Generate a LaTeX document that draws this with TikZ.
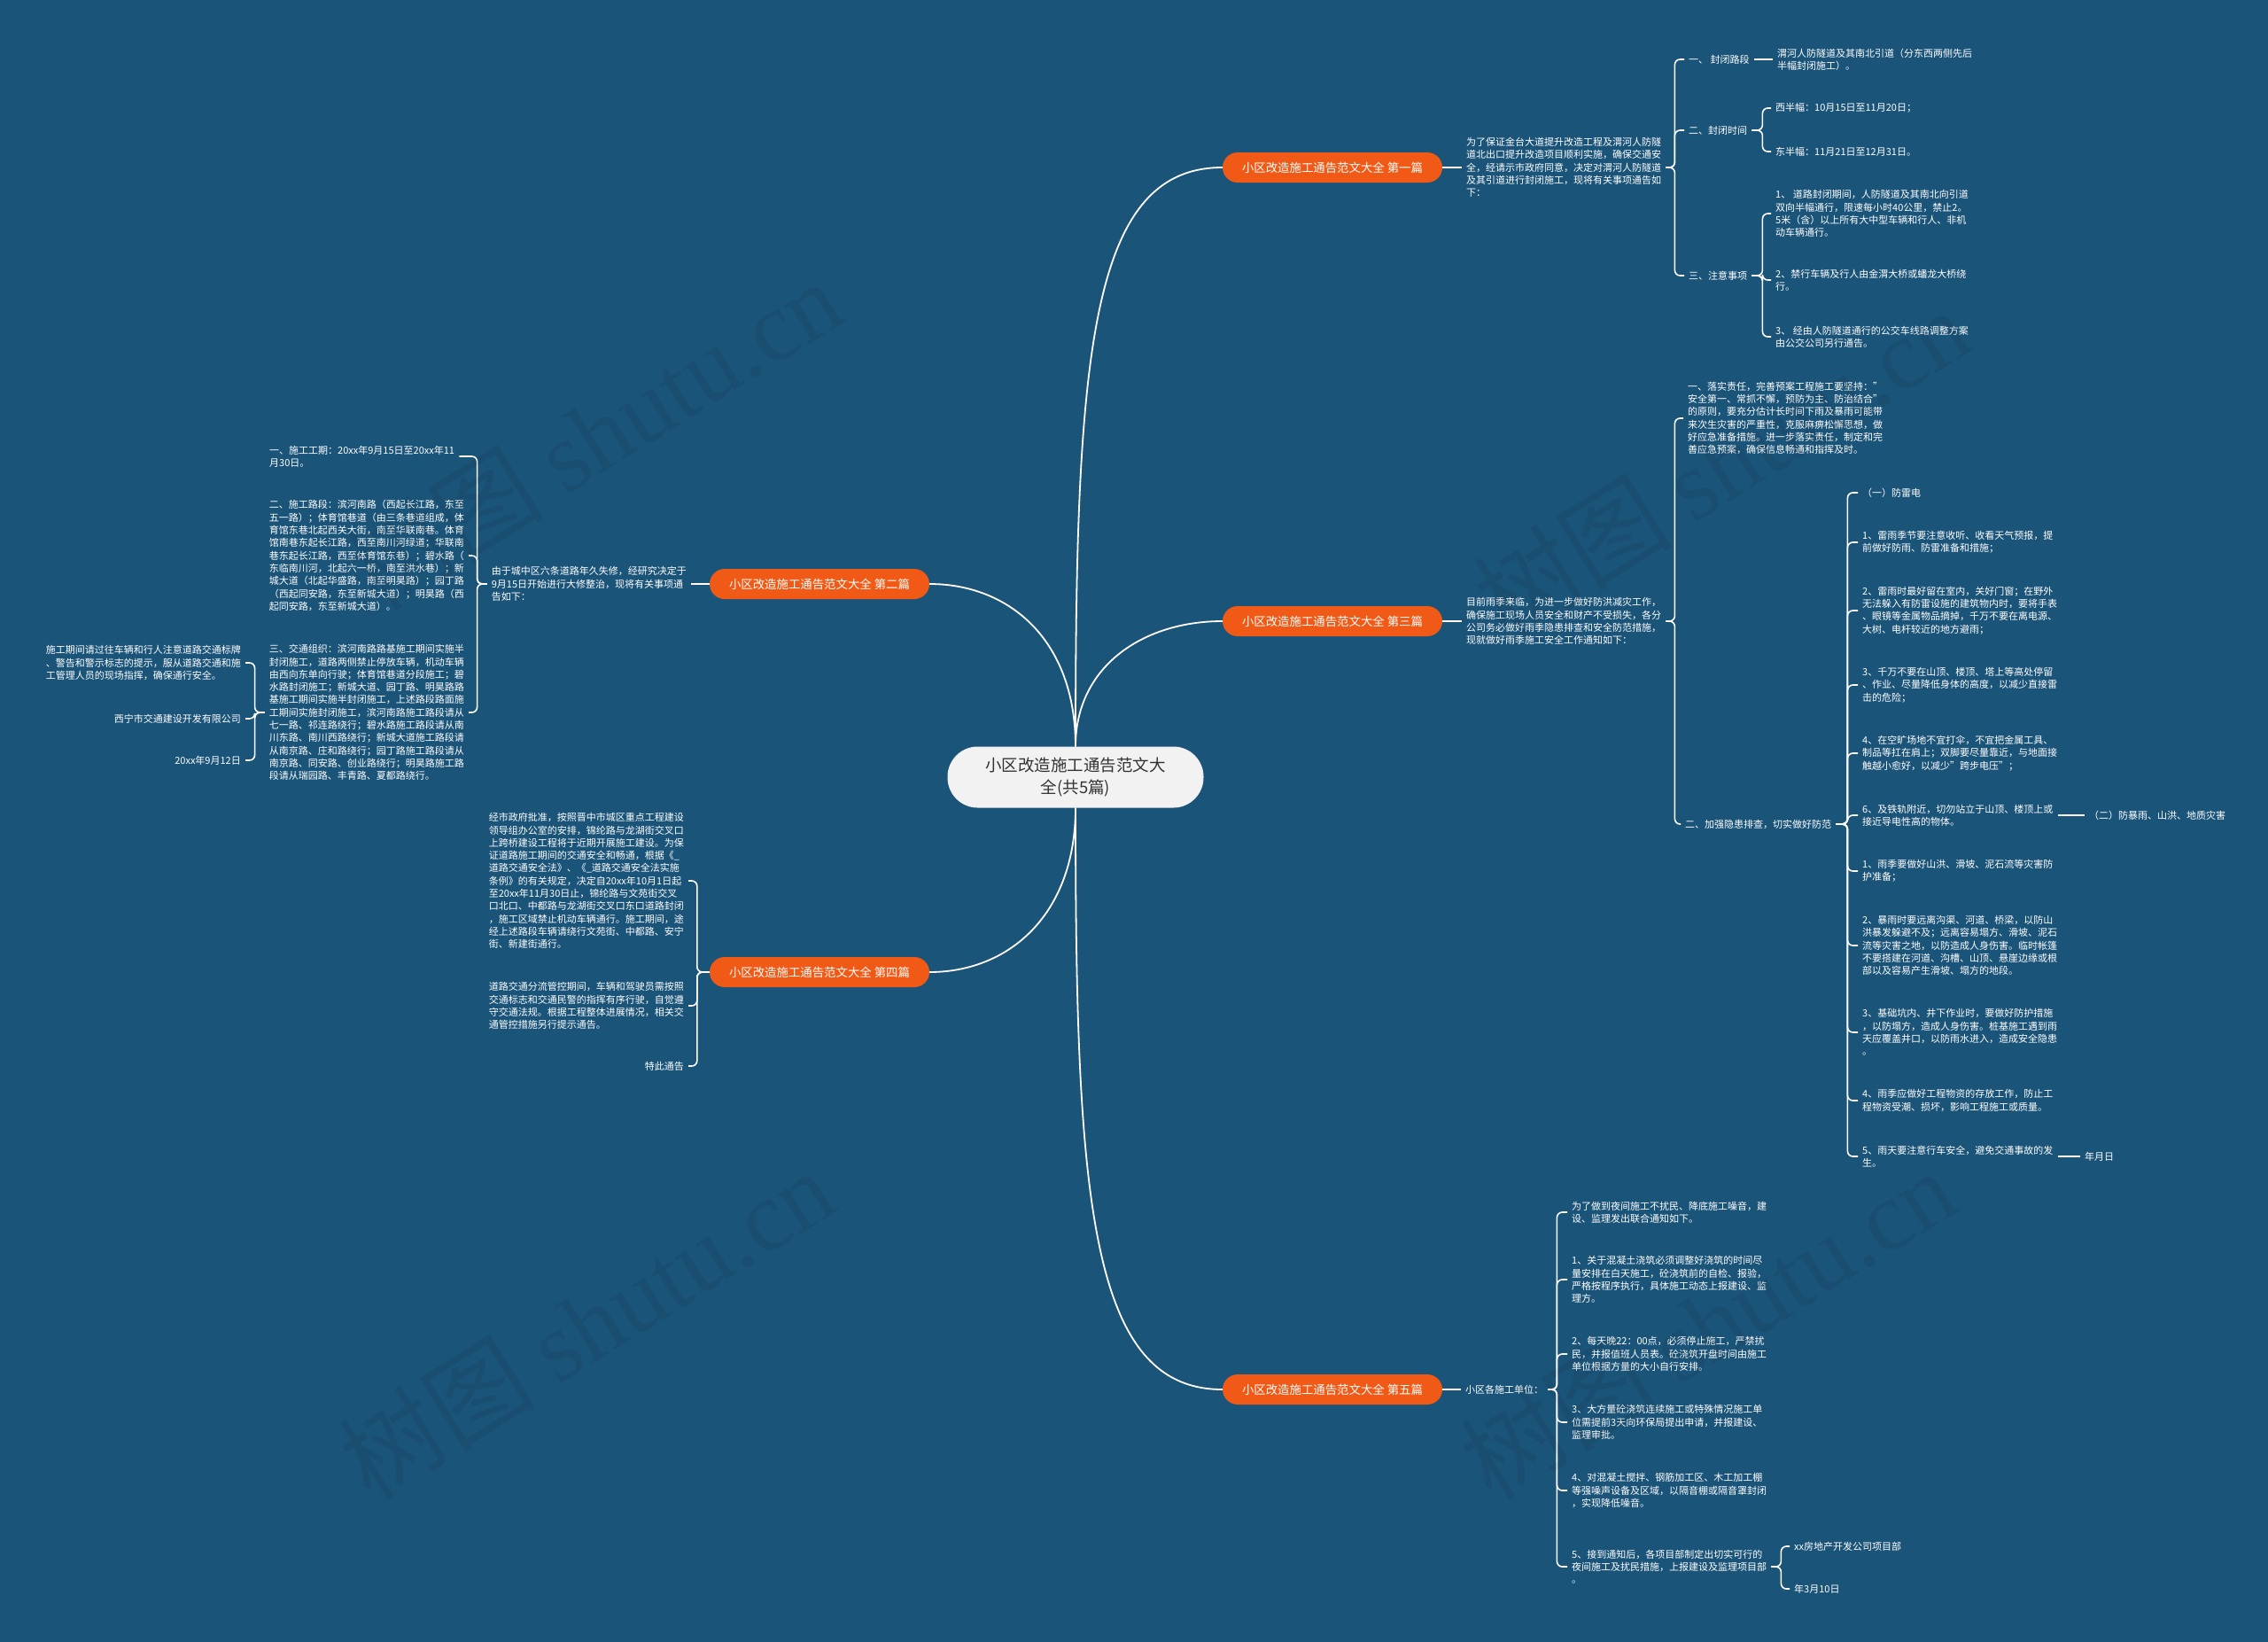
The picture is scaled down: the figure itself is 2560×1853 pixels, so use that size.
\documentclass[tikz,border=0pt]{standalone}
\usepackage{fontspec}
\setmainfont{Noto Sans CJK SC}
\newfontfamily\wmlatin{Liberation Serif}
\definecolor{bgblue}{HTML}{1B5479}
\definecolor{topicorange}{HTML}{F05A16}
\definecolor{rootgray}{HTML}{F2F2F2}
\definecolor{rootink}{HTML}{333333}
\def\leaffont{\fontsize{11}{14.3}\selectfont}
\def\topicfont{\fontsize{13.4}{16}\selectfont}
\def\rootfont{\fontsize{18.5}{25}\selectfont}
\def\wmfont{\fontsize{112}{112}\selectfont}
\tikzset{
  leaf/.style={text=white, font=\leaffont, align=left, inner xsep=5pt, inner ysep=1pt},
  leafR/.style={leaf, anchor=west},
  leafL/.style={leaf, anchor=east},
  topic/.style={fill=topicorange, text=white, font=\topicfont, rounded corners=17pt,
    minimum width=248pt, minimum height=34pt, inner sep=0pt},
  root/.style={fill=rootgray, text=rootink, font=\rootfont, align=center,
    rounded corners=34pt, minimum width=289pt, minimum height=69pt},
  trunk/.style={draw=white, line width=1.8pt},
  link/.style={draw=white, line width=1.6pt, rounded corners=6pt},
  wmark/.style={font=\wmfont, text=black, opacity=0.07, rotate=32},
}

\begin{document}
\begin{tikzpicture}[x=1pt,y=-1pt]
			%%%%% START %%%%%
			\useasboundingbox (0,0) rectangle (2560,1853);
			\fill[bgblue] (0,0) rectangle (2560,1853);
			
			\node[root] (root) at (1214,877) {小区改造施工通告范文大\\全(共5篇)};
			
			\node[topic] (b1) at (1504,189) {小区改造施工通告范文大全 第一篇};
			\node[topic] (b2) at (925,659) {小区改造施工通告范文大全 第二篇};
			\node[topic] (b3) at (1504,701) {小区改造施工通告范文大全 第三篇};
			\node[topic] (b4) at (925,1097) {小区改造施工通告范文大全 第四篇};
			\node[topic] (b5) at (1504,1568) {小区改造施工通告范文大全 第五篇};
			
			\draw[trunk] (root.north) .. controls +(0,-440) and +(-150,0) .. (b1.west);
			\draw[trunk] (root.north) .. controls +(0,-90) and +(-90,0) .. (b3.west);
			\draw[trunk] (root.north) .. controls +(0,-120) and +(90,0) .. (b2.east);
			\draw[trunk] (root.south) .. controls +(0,120) and +(90,0) .. (b4.east);
			\draw[trunk] (root.south) .. controls +(0,440) and +(-150,0) .. (b5.west);
			
			% first
			\node[leafR] (p1) at (1650,189) {为了保证金台大道提升改造工程及渭河人防隧\\
道北出口提升改造项目顺利实施，确保交通安\\
全，经请示市政府同意，决定对渭河人防隧道\\
及其引道进行封闭施工，现将有关事项通告如\\
下：};
			\node[leafR] (s11) at (1901,67) {一、 封闭路段};
			\node[leafR] (s11a) at (2001,67) {渭河人防隧道及其南北引道（分东西两侧先后\\
半幅封闭施工）。};
			\node[leafR] (s12) at (1901,147) {二、封闭时间};
			\node[leafR] (s12a) at (1999,122) {西半幅：10月15日至11月20日；};
			\node[leafR] (s12b) at (1999,171) {东半幅：11月21日至12月31日。};
			\node[leafR] (s13) at (1901,311) {三、注意事项};
			\node[leafR] (s13a) at (1999,241) {1、 道路封闭期间，人防隧道及其南北向引道\\
双向半幅通行，限速每小时40公里，禁止2。\\
5米（含）以上所有大中型车辆和行人、非机\\
动车辆通行。};
			\node[leafR] (s13b) at (1999,316) {2、禁行车辆及行人由金渭大桥或蟠龙大桥绕\\
行。};
			\node[leafR] (s13c) at (1999,380) {3、 经由人防隧道通行的公交车线路调整方案\\
由公交公司另行通告。};
			
			\draw[link] (b1.east) -- (p1.west);
			\draw[link] (p1.east) -- ++(10,0) |- (s11.west);
			\draw[link] (p1.east) -- ++(10,0) |- (s12.west);
			\draw[link] (p1.east) -- ++(10,0) |- (s13.west);
			\draw[link] (s11.east) -- (s11a.west);
			\draw[link] (s12.east) -- ++(12,0) |- (s12a.west);
			\draw[link] (s12.east) -- ++(12,0) |- (s12b.west);
			\draw[link] (s13.east) -- ++(12,0) |- (s13a.west);
			\draw[link] (s13.east) -- ++(12,0) |- (s13b.west);
			\draw[link] (s13.east) -- ++(12,0) |- (s13c.west);
			
			% third
			\node[leafR] (p3) at (1650,701) {目前雨季来临，为进一步做好防洪减灾工作，\\
确保施工现场人员安全和财产不受损失，各分\\
公司务必做好雨季隐患排查和安全防范措施，\\
现就做好雨季施工安全工作通知如下：};
			\node[leafR] (t31) at (1900,472) {一、落实责任，完善预案工程施工要坚持："\\
安全第一、常抓不懈，预防为主、防治结合"\\
的原则，要充分估计长时间下雨及暴雨可能带\\
来次生灾害的严重性，克服麻痹松懈思想，做\\
好应急准备措施。进一步落实责任，制定和完\\
善应急预案，确保信息畅通和指挥及时。};
			\node[leafR] (t32) at (1897,930) {二、加强隐患排查，切实做好防范};
			\node[leafR] (u0) at (2097,556) {（一）防雷电};
			\node[leafR] (u1) at (2097,612) {1、雷雨季节要注意收听、收看天气预报，提\\
前做好防雨、防雷准备和措施；};
			\node[leafR] (u2) at (2097,689) {2、雷雨时最好留在室内，关好门窗；在野外\\
无法躲入有防雷设施的建筑物内时，要将手表\\
、眼镜等金属物品摘掉，千万不要在离电源、\\
大树、电杆较近的地方避雨；};
			\node[leafR] (u3) at (2097,773) {3、千万不要在山顶、楼顶、塔上等高处停留\\
、作业、尽量降低身体的高度，以减少直接雷\\
击的危险；};
			\node[leafR] (u4) at (2097,850) {4、在空旷场地不宜打伞，不宜把金属工具、\\
制品等扛在肩上；双脚要尽量靠近，与地面接\\
触越小愈好，以减少"跨步电压"；};
			\node[leafR] (u6) at (2097,920) {6、及铁轨附近，切勿站立于山顶、楼顶上或\\
接近导电性高的物体。};
			\node[leafR] (v6) at (2353,920) {（二）防暴雨、山洪、地质灾害};
			\node[leafR] (w1) at (2097,983) {1、雨季要做好山洪、滑坡、泥石流等灾害防\\
护准备；};
			\node[leafR] (w2) at (2097,1067) {2、暴雨时要远离沟渠、河道、桥梁，以防山\\
洪暴发躲避不及；远离容易塌方、滑坡、泥石\\
流等灾害之地，以防造成人身伤害。临时帐篷\\
不要搭建在河道、沟槽、山顶、悬崖边缘或根\\
部以及容易产生滑坡、塌方的地段。};
			\node[leafR] (w3) at (2097,1165) {3、基础坑内、井下作业时，要做好防护措施\\
，以防塌方，造成人身伤害。桩基施工遇到雨\\
天应覆盖井口，以防雨水进入，造成安全隐患\\
。};
			\node[leafR] (w4) at (2097,1242) {4、雨季应做好工程物资的存放工作，防止工\\
程物资受潮、损坏，影响工程施工或质量。};
			\node[leafR] (w5) at (2097,1305) {5、雨天要注意行车安全，避免交通事故的发\\
生。};
			\node[leafR] (w5a) at (2348,1305) {年月日};
			
			\draw[link] (b3.east) -- (p3.west);
			\draw[link] (p3.east) -- ++(10,0) |- (t31.west);
			\draw[link] (p3.east) -- ++(10,0) |- (t32.west);
			\draw[link] (t32.east) -- ++(13,0) |- (u0.west);
			\draw[link] (t32.east) -- ++(13,0) |- (u1.west);
			\draw[link] (t32.east) -- ++(13,0) |- (u2.west);
			\draw[link] (t32.east) -- ++(13,0) |- (u3.west);
			\draw[link] (t32.east) -- ++(13,0) |- (u4.west);
			\draw[link] (t32.east) -- ++(13,0) |- (u6.west);
			\draw[link] (t32.east) -- ++(13,0) |- (w1.west);
			\draw[link] (t32.east) -- ++(13,0) |- (w2.west);
			\draw[link] (t32.east) -- ++(13,0) |- (w3.west);
			\draw[link] (t32.east) -- ++(13,0) |- (w4.west);
			\draw[link] (t32.east) -- ++(13,0) |- (w5.west);
			\draw[link] (u6.east) -- (v6.west);
			\draw[link] (w5.east) -- (w5a.west);
			
			% fifth
			\node[leafR] (p5) at (1649,1568) {小区各施工单位：};
			\node[leafR] (x0) at (1769,1368) {为了做到夜间施工不扰民、降底施工噪音，建\\
设、监理发出联合通知如下。};
			\node[leafR] (x1) at (1769,1444) {1、关于混凝土浇筑必须调整好浇筑的时间尽\\
量安排在白天施工，砼浇筑前的自检、报验，\\
严格按程序执行，具体施工动态上报建设、监\\
理方。};
			\node[leafR] (x2) at (1769,1528) {2、每天晚22：00点，必须停止施工，严禁扰\\
民，并报值班人员表。砼浇筑开盘时间由施工\\
单位根据方量的大小自行安排。};
			\node[leafR] (x3) at (1769,1605) {3、大方量砼浇筑连续施工或特殊情况施工单\\
位需提前3天向环保局提出申请，并报建设、\\
监理审批。};
			\node[leafR] (x4) at (1769,1682) {4、对混凝土搅拌、钢筋加工区、木工加工棚\\
等强噪声设备及区域，以隔音棚或隔音罩封闭\\
，实现降低噪音。};
			\node[leafR] (x5) at (1769,1768) {5、接到通知后，各项目部制定出切实可行的\\
夜间施工及扰民措施，上报建设及监理项目部\\
。};
			\node[leafR] (x5a) at (2020,1745) {xx房地产开发公司项目部};
			\node[leafR] (x5b) at (2020,1793) {年3月10日};
			
			\draw[link] (b5.east) -- (p5.west);
			\draw[link] (p5.east) -- ++(10,0) |- (x0.west);
			\draw[link] (p5.east) -- ++(10,0) |- (x1.west);
			\draw[link] (p5.east) -- ++(10,0) |- (x2.west);
			\draw[link] (p5.east) -- ++(10,0) |- (x3.west);
			\draw[link] (p5.east) -- ++(10,0) |- (x4.west);
			\draw[link] (p5.east) -- ++(10,0) |- (x5.west);
			\draw[link] (x5.east) -- ++(11,0) |- (x5a.west);
			\draw[link] (x5.east) -- ++(11,0) |- (x5b.west);
			
			% second
			\node[leafL] (p2) at (780,659) {由于城中区六条道路年久失修，经研究决定于\\
9月15日开始进行大修整治，现将有关事项通\\
告如下：};
			\node[leafR] (r1) at (299,515) {一、施工工期：20xx年9月15日至20xx年11\\
月30日。};
			\node[leafL] (r2) at (529,627) {二、施工路段：滨河南路（西起长江路，东至\\
五一路）；体育馆巷道（由三条巷道组成，体\\
育馆东巷北起西关大街，南至华联南巷。体育\\
馆南巷东起长江路，西至南川河绿道；华联南\\
巷东起长江路，西至体育馆东巷）；碧水路（\\
东临南川河，北起六一桥，南至洪水巷）；新\\
城大道（北起华盛路，南至明昊路）；园丁路\\
（西起同安路，东至新城大道）；明昊路（西\\
起同安路，东至新城大道）。};
			\node[leafL] (r3) at (529,804) {三、交通组织：滨河南路路基施工期间实施半\\
封闭施工，道路两侧禁止停放车辆，机动车辆\\
由西向东单向行驶；体育馆巷道分段施工；碧\\
水路封闭施工；新城大道、园丁路、明昊路路\\
基施工期间实施半封闭施工，上述路段路面施\\
工期间实施封闭施工，滨河南路施工路段请从\\
七一路、祁连路绕行；碧水路施工路段请从南\\
川东路、南川西路绕行；新城大道施工路段请\\
从南京路、庄和路绕行；园丁路施工路段请从\\
南京路、同安路、创业路绕行；明昊路施工路\\
段请从瑞园路、丰青路、夏都路绕行。};
			\node[leafL] (r3a) at (277,748) {施工期间请过往车辆和行人注意道路交通标牌\\
、警告和警示标志的提示，服从道路交通和施\\
工管理人员的现场指挥，确保通行安全。};
			\node[leafL] (r3b) at (277,811) {西宁市交通建设开发有限公司};
			\node[leafL] (r3c) at (277,858) {20xx年9月12日};
			
			\draw[link] (b2.west) -- (p2.east);
			\draw[link] (p2.west) -- ++(-11,0) |- (r1.east);
			\draw[link] (p2.west) -- ++(-11,0) |- (r2.east);
			\draw[link] (p2.west) -- ++(-11,0) |- (r3.east);
			\draw[link] (r3.west) -- ++(-11,0) |- (r3a.east);
			\draw[link] (r3.west) -- ++(-11,0) |- (r3b.east);
			\draw[link] (r3.west) -- ++(-11,0) |- (r3c.east);
			
			% fourth
			\node[leafL] (q1) at (777,994) {经市政府批准，按照晋中市城区重点工程建设\\
领导组办公室的安排，锦纶路与龙湖街交叉口\\
上跨桥建设工程将于近期开展施工建设。为保\\
证道路施工期间的交通安全和畅通，根据《\_\\
道路交通安全法》、《\_道路交通安全法实施\\
条例》的有关规定，决定自20xx年10月1日起\\
至20xx年11月30日止，锦纶路与文苑街交叉\\
口北口、中都路与龙湖街交叉口东口道路封闭\\
，施工区域禁止机动车辆通行。施工期间，途\\
经上述路段车辆请绕行文苑街、中都路、安宁\\
街、新建街通行。};
			\node[leafL] (q2) at (777,1135) {道路交通分流管控期间，车辆和驾驶员需按照\\
交通标志和交通民警的指挥有序行驶，自觉遵\\
守交通法规。根据工程整体进展情况，相关交\\
通管控措施另行提示通告。};
			\node[leafL] (q3) at (777,1203) {特此通告};
			
			\draw[link] (b4.west) -- ++(-14,0) |- (q1.east);
			\draw[link] (b4.west) -- ++(-14,0) |- (q2.east);
			\draw[link] (b4.west) -- ++(-14,0) |- (q3.east);
			
			% watermark
			\node[wmark] (wm1) at (670,490) {树图 {\wmlatin shutu.cn}};
			\node[wmark] (wm2) at (1943,522) {树图 {\wmlatin shutu.cn}};
			\node[wmark] (wm3) at (661,1494) {树图 {\wmlatin shutu.cn}};
			\node[wmark] (wm4) at (1927,1494) {树图 {\wmlatin shutu.cn}};
			%%%%% END %%%%%
\end{tikzpicture}
\end{document}
